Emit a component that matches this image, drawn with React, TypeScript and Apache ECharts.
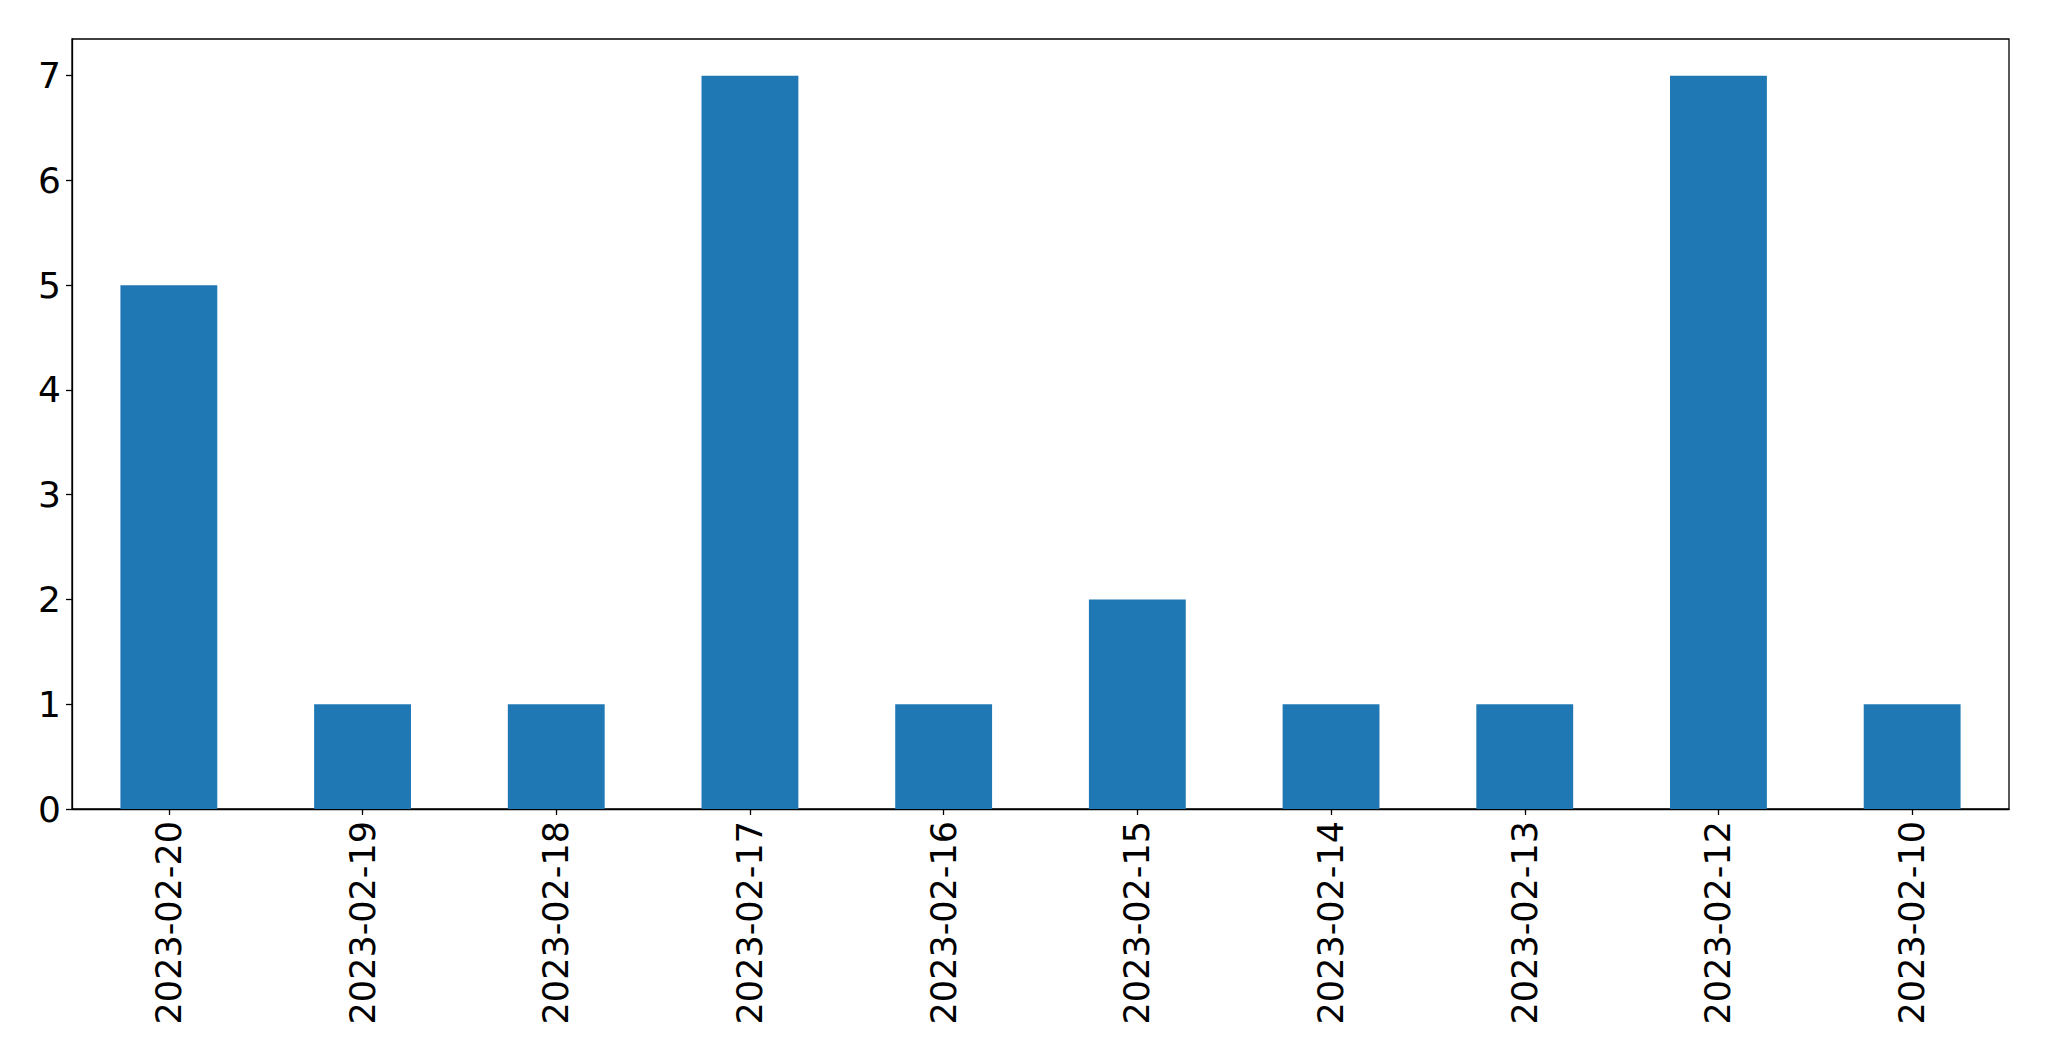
import React, { useEffect, useRef } from "react";
import * as echarts from "echarts";

const categories = [
  "2023-02-20",
  "2023-02-19",
  "2023-02-18",
  "2023-02-17",
  "2023-02-16",
  "2023-02-15",
  "2023-02-14",
  "2023-02-13",
  "2023-02-12",
  "2023-02-10",
];
const values = [5, 1, 1, 7, 1, 2, 1, 1, 7, 1];
const yTicks = [0, 1, 2, 3, 4, 5, 6, 7];

export default function App() {
  const ref = useRef<HTMLDivElement>(null);
  useEffect(() => {
    const chart = echarts.init(ref.current!, null, { renderer: "svg" });
    const font = "DejaVu Sans";
    chart.setOption({
      animation: false,
      backgroundColor: "#ffffff",
      grid: {
        left: 72,
        top: 39,
        right: 40,
        bottom: 252,
        show: true,
        borderColor: "#000000",
        borderWidth: 1.3,
        backgroundColor: "transparent",
      },
      xAxis: {
        type: "category",
        data: categories,
        boundaryGap: true,
        axisLine: { show: true, lineStyle: { color: "#000", width: 1.3 } },
        axisTick: {
          show: true,
          alignWithLabel: true,
          length: 6,
          lineStyle: { color: "#000", width: 1.3 },
        },
        axisLabel: {
          rotate: 90,
          margin: 12,
          color: "#000",
          fontFamily: font,
          fontSize: 35,
        },
        splitLine: { show: false },
      },
      yAxis: {
        type: "value",
        min: 0,
        max: 7.35,
        interval: 1,
        axisLine: { show: true, lineStyle: { color: "#000", width: 1.3 } },
        axisTick: {
          show: true,
          length: 6,
          lineStyle: { color: "#000", width: 1.3 },
          customValues: yTicks,
        },
        axisLabel: {
          margin: 11,
          color: "#000",
          fontFamily: font,
          fontSize: 36,
          customValues: yTicks,
        },
        splitLine: { show: false },
      },
      series: [
        {
          type: "bar",
          data: values,
          barWidth: "50%",
          itemStyle: { color: "#1f77b4" },
        },
      ],
    });
    return () => chart.dispose();
  }, []);
  return (
    <div
      ref={ref}
      style={{ position: "fixed", left: 0, top: 0, width: 2049, height: 1061 }}
    />
  );
}
